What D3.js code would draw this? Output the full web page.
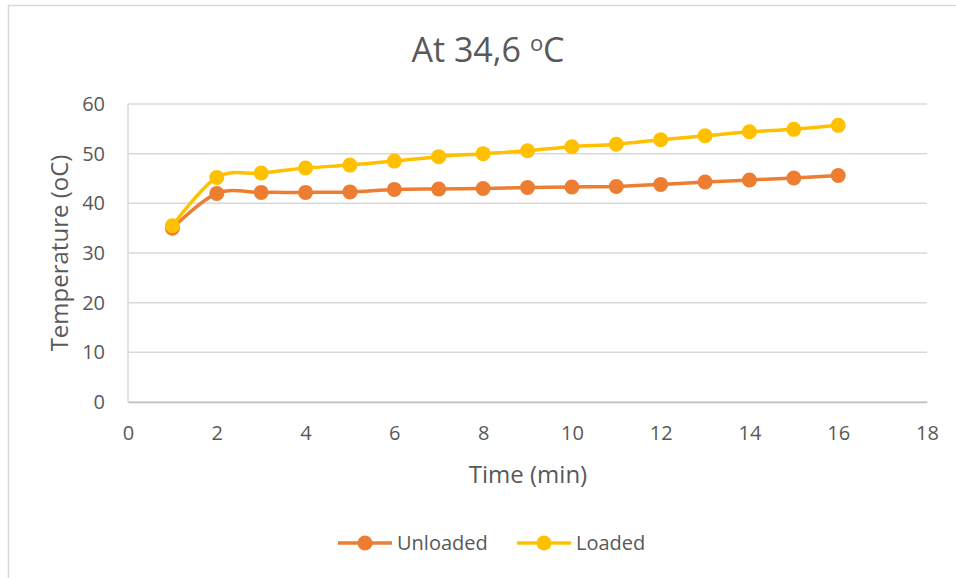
<!DOCTYPE html>
<html>
<head>
<meta charset="utf-8">
<script src="https://cdn.jsdelivr.net/npm/d3@7"></script>
<style>
  body { margin: 0; background: #fff; }
  svg text { font-family: "Open Sans", "Noto Sans", sans-serif; fill: #595959; }
</style>
</head>
<body>
<div id="chart"></div>
<script>
(function () {

    // Data
    const times = [1, 2, 3, 4, 5, 6, 7, 8, 9, 10, 11, 12, 13, 14, 15, 16];
    const unloaded = [35.0, 42.0, 42.2, 42.2, 42.3, 42.8, 42.9, 43.0, 43.2, 43.3, 43.4, 43.8, 44.3, 44.7, 45.1, 45.6];
    const loaded = [35.5, 45.2, 46.1, 47.1, 47.7, 48.5, 49.4, 50.0, 50.6, 51.4, 51.9, 52.8, 53.6, 54.4, 54.9, 55.7];
    const xTicks = [0, 2, 4, 6, 8, 10, 12, 14, 16, 18];
    const yTicks = [0, 10, 20, 30, 40, 50, 60];

    const series = [
        { name: "Unloaded", values: unloaded, color: "#ED7D31" },
        { name: "Loaded", values: loaded, color: "#FFC000" }
    ];

    const width = 956, height = 578;
    const svg = d3.select("#chart").append("svg")
        .attr("width", width)
        .attr("height", height);

    // chart border
    svg.append("rect")
        .attr("x", 8.5)
        .attr("y", 5.5)
        .attr("width", 980)
        .attr("height", 600)
        .attr("fill", "white")
        .attr("stroke", "#d9d9d9")
        .attr("stroke-width", 1.5);

    const x = d3.scaleLinear().domain([0, 18]).range([128, 927]);
    const y = d3.scaleLinear().domain([0, 60]).range([402, 104]);

    // gridlines
    svg.append("g")
        .selectAll("line")
        .data(yTicks)
        .join("line")
        .attr("x1", x(0))
        .attr("x2", x(18))
        .attr("y1", d => y(d))
        .attr("y2", d => y(d))
        .attr("stroke", "#d9d9d9")
        .attr("stroke-width", 1.5);

    // left axis line
    svg.append("line")
        .attr("x1", x(0)).attr("x2", x(0))
        .attr("y1", y(0)).attr("y2", y(60))
        .attr("stroke", "#d9d9d9")
        .attr("stroke-width", 1.5);

    // bottom axis
    const xAxis = svg.append("g")
        .attr("transform", `translate(0,${y(0)})`)
        .call(d3.axisBottom(x).tickValues(xTicks).tickSize(0).tickPadding(24));
    xAxis.select(".domain").attr("stroke", "#bfbfbf").attr("stroke-width", 1.5);
    xAxis.selectAll("text").attr("font-size", 20).attr("fill", "#595959");

    const yAxis = svg.append("g")
        .attr("transform", `translate(${x(0)},0)`)
        .call(d3.axisLeft(y).tickValues(yTicks).tickSize(0).tickPadding(23));
    yAxis.select(".domain").remove();
    yAxis.selectAll("text").attr("font-size", 20).attr("fill", "#595959");

    // title
    const title = svg.append("text")
        .attr("x", 488)
        .attr("y", 62)
        .attr("text-anchor", "middle")
        .attr("font-size", 34);
    title.append("tspan").text("At 34,6 ");
    title.append("tspan").attr("font-size", 22).attr("dy", -11).text("o");
    title.append("tspan").attr("dy", 11).text("C");

    // axis titles
    svg.append("text")
        .attr("x", 528)
        .attr("y", 483)
        .attr("text-anchor", "middle")
        .attr("font-size", 24)
        .text("Time (min)");

    svg.append("text")
        .attr("transform", "translate(68,253) rotate(-90)")
        .attr("text-anchor", "middle")
        .attr("font-size", 24)
        .text("Temperature (oC)");

    // lines
    const line = d3.line()
        .x((d, i) => x(times[i]))
        .y(d => y(d))
        .curve(d3.curveCatmullRom.alpha(0));

    series.forEach(s => {
        svg.append("path")
            .attr("d", line(s.values))
            .attr("fill", "none")
            .attr("stroke", s.color)
            .attr("stroke-width", 3.5)
            .attr("stroke-linejoin", "round");

        svg.append("g")
            .selectAll("circle")
            .data(s.values)
            .join("circle")
            .attr("cx", (d, i) => x(times[i]))
            .attr("cy", d => y(d))
            .attr("r", 7.5)
            .attr("fill", s.color);
    });

    // legend
    const legendX = [338, 517];
    series.forEach((s, i) => {
        const g = svg.append("g").attr("transform", `translate(${legendX[i]},543)`);
        g.append("line")
            .attr("x1", 0).attr("x2", 54)
            .attr("stroke", s.color)
            .attr("stroke-width", 3.5);
        g.append("circle")
            .attr("cx", 27)
            .attr("r", 7.5)
            .attr("fill", s.color);
        g.append("text")
            .attr("x", 59)
            .attr("y", 7)
            .attr("font-size", 20)
            .text(s.name);
    });
})();
</script>
</body>
</html>
